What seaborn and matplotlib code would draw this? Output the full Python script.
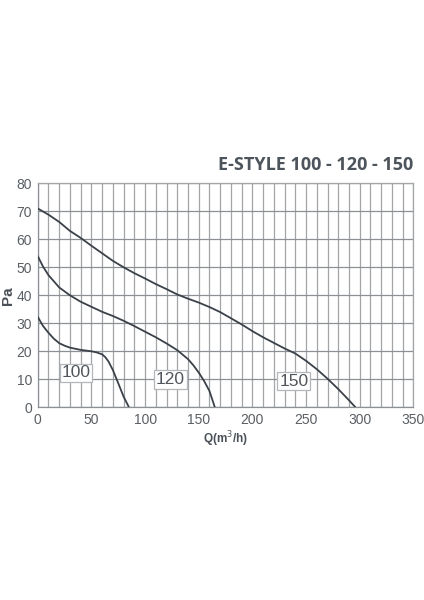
import pandas as pd
import matplotlib.pyplot as plt
from matplotlib.ticker import MultipleLocator
import seaborn as sns

# curve readings (Q in m3/h, pressure in Pa)
q_100 = [0, 5, 10, 15, 20, 25, 30, 40, 50, 55, 60, 63, 66, 70, 75, 80, 85]
pa_100 = [32.3, 29.0, 26.6, 24.5, 22.9, 22.0, 21.3, 20.5, 20.0, 19.6, 18.9, 17.9, 16.3, 13.3, 8.6, 3.8, 0]

q_120 = [0, 5, 10, 20, 30, 40, 50, 60, 70, 80, 90, 100, 110, 120, 130, 140, 145, 150, 155, 160, 165]
pa_120 = [54.0, 50.2, 47.2, 42.8, 40.0, 37.7, 35.9, 34.1, 32.6, 30.9, 29.0, 27.0, 25.0, 22.8, 20.4,
          17.2, 15.0, 12.4, 9.4, 5.8, 0]

q_150 = [0, 10, 20, 30, 40, 50, 60, 70, 80, 90, 100, 110, 120, 130, 140, 150, 160, 170, 180,
         190, 200, 210, 220, 230, 240, 250, 260, 270, 280, 290, 296]
pa_150 = [71.0, 68.8, 66.2, 63.0, 60.5, 57.7, 55.0, 52.3, 50.0, 47.9, 46.0, 44.0, 42.2, 40.3,
          38.8, 37.4, 35.8, 34.0, 31.8, 29.6, 27.2, 25.0, 23.0, 21.0, 19.2, 16.6, 13.6, 10.2, 6.5, 2.5, 0]

models = ['100', '120', '150']
label_pos = {'100': (35.5, 12.3), '120': (123.5, 10.0), '150': (238.5, 9.3)}

df = pd.concat([
    pd.DataFrame({'Q': q_100, 'Pa': pa_100, 'model': '100'}),
    pd.DataFrame({'Q': q_120, 'Pa': pa_120, 'model': '120'}),
    pd.DataFrame({'Q': q_150, 'Pa': pa_150, 'model': '150'}),
])

sns.set_style('white')
plt.rcParams['font.family'] = ['Liberation Sans', 'DejaVu Sans']

fig = plt.figure(figsize=(4.24, 6), dpi=100)
ax = fig.add_axes([0.089, 0.3212, 0.886, 0.3733])

sns.lineplot(data=df, x='Q', y='Pa', hue='model', palette=['#3b4148'] * 3,
             linewidth=1.3, legend=False, sort=False, ax=ax, zorder=3)

ax.set_xlim(0, 350)
ax.set_ylim(0, 80)
ax.xaxis.set_major_locator(MultipleLocator(50))
ax.xaxis.set_minor_locator(MultipleLocator(10))
ax.yaxis.set_major_locator(MultipleLocator(10))
ax.grid(which='both', axis='x', color='#a3a6a9', linewidth=0.9)
ax.grid(which='major', axis='y', color='#8c9095', linewidth=0.9)
for s in ax.spines.values():
    s.set_color('#a3a6a9')
    s.set_linewidth(0.9)
ax.spines['left'].set_color('#8c9095')
ax.spines['bottom'].set_color('#8c9095')
ax.tick_params(axis='both', which='major', length=2.5, color='#8c9095', labelsize=10,
               labelcolor='#5a5f64', pad=1.5)
ax.tick_params(axis='x', which='minor', length=0)

ax.set_xlabel('Q(m$^3$/h)', fontsize=8.5, fontweight='bold', color='#4a5057', labelpad=2)
ax.set_ylabel('Pa', fontsize=11, fontweight='bold', color='#4a5057', labelpad=1)

for m in models:
    x, y = label_pos[m]
    ax.text(x, y, m, fontsize=12.5, color='#50565c', ha='center', va='center', zorder=4,
            bbox=dict(boxstyle='square,pad=0.1', facecolor='white', edgecolor='#b4b7ba', linewidth=0.9))

fig.text(0.975, 0.725, 'E-STYLE 100 - 120 - 150', ha='right', va='center', fontsize=13,
         fontweight='bold', color='#4d545b', family=['Open Sans', 'DejaVu Sans'])

fig.savefig('out.png', dpi=100, facecolor='white')
